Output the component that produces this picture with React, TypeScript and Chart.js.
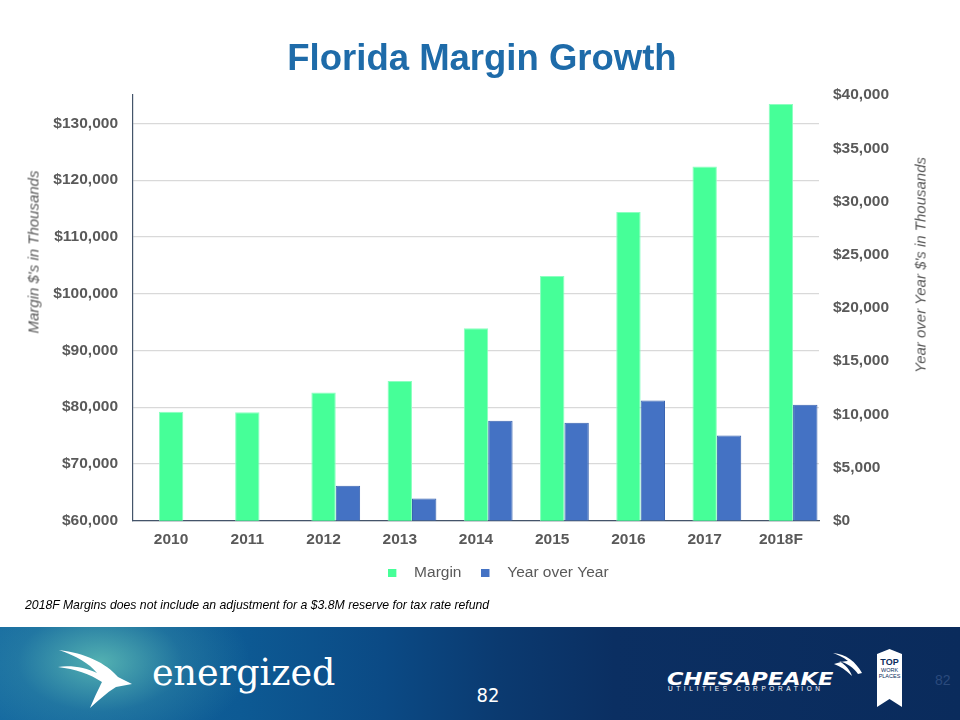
import React, { useEffect, useRef } from 'react';
import { Chart, registerables } from 'chart.js';

Chart.register(...registerables);

// ---- data ----
const categories = ['2010', '2011', '2012', '2013', '2014', '2015', '2016', '2017', '2018F'];
const marginValues = [79200, 79100, 82600, 84600, 93900, 103100, 114400, 122400, 133400];
const yoyValues: (number | null)[] = [null, null, 3300, 2100, 9400, 9200, 11300, 8000, 10900];
const leftAxisMin = 60000;
const leftAxisMax = 135000;
const leftTicks = [60000, 70000, 80000, 90000, 100000, 110000, 120000, 130000];
const rightAxisMin = 0;
const rightAxisMax = 40000;
const rightTicks = [0, 5000, 10000, 15000, 20000, 25000, 30000, 35000, 40000];
const seriesNames = ['Margin', 'Year over Year'];

const FONT = "'Liberation Sans', Arial, Helvetica, sans-serif";
const GREEN = '#46FF98';
const BLUE = '#4472C4';
const LABEL = '#595959';

function makeSwatch(color: string) {
  const c = document.createElement('canvas');
  c.width = 18;
  c.height = 8;
  const ctx = c.getContext('2d')!;
  ctx.fillStyle = color;
  ctx.fillRect(0, 0, 8, 8);
  return c;
}

const fmt = (v: number | string) => '$' + Number(v).toLocaleString('en-US');

function ChartCanvas() {
  const ref = useRef<HTMLCanvasElement | null>(null);
  useEffect(() => {
    if (!ref.current) return;
    const swatches: any = { 1: makeSwatch(GREEN), 2: makeSwatch(BLUE) };
    const tickFont = { family: FONT, size: 15.5, weight: 'bold' as const };
    const chart = new Chart(ref.current, {
      type: 'bar',
      data: {
        labels: categories,
        datasets: [
          {
            label: '',
            data: categories.map(() => null),
            yAxisID: 'y',
            backgroundColor: 'rgba(0,0,0,0)',
            categoryPercentage: 0.96,
            barPercentage: 1,
          },
          {
            label: seriesNames[0],
            data: marginValues,
            yAxisID: 'y',
            backgroundColor: GREEN,
            borderColor: '#8CFFC0',
            borderWidth: 1,
            categoryPercentage: 0.96,
            barPercentage: 1,
          },
          {
            label: seriesNames[1],
            data: yoyValues,
            yAxisID: 'y2',
            backgroundColor: BLUE,
            borderColor: '#3A64B0',
            borderWidth: 1,
            categoryPercentage: 0.96,
            barPercentage: 1,
          },
        ],
      },
      options: {
        animation: false,
        responsive: false,
        layout: { padding: { top: 95, bottom: 9.25, left: 37, right: 0 } },
        plugins: {
          tooltip: { enabled: false },
          title: { display: false },
          legend: {
            position: 'bottom',
            labels: {
              color: LABEL,
              font: { family: FONT, size: 15.5 },
              padding: 20,
              usePointStyle: true,
              pointStyleWidth: 18,
              generateLabels: (ch: any) => {
                const items = (Chart.defaults as any).plugins.legend.labels.generateLabels(ch);
                return items
                  .filter((i: any) => i.datasetIndex !== 0)
                  .map((i: any) => ({ ...i, pointStyle: swatches[i.datasetIndex] }));
              },
            },
          },
        },
        scales: {
          x: {
            grid: { display: false, drawTicks: false },
            border: { display: true, color: '#44546A', width: 1.2 },
            ticks: { color: LABEL, font: tickFont, padding: 9.5 },
            afterFit: (s: any) => {
              s.height = 24.5;
            },
          },
          y: {
            position: 'left',
            min: leftAxisMin,
            max: leftAxisMax,
            ticks: {
              callback: (v: any) => fmt(v),
              color: LABEL,
              font: tickFont,
              padding: 15,
            },
            afterBuildTicks: (s: any) => {
              s.ticks = leftTicks.map((value) => ({ value }));
            },
            grid: { color: '#D9D9D9', drawTicks: false, lineWidth: 1.2 },
            border: { display: true, color: '#44546A', width: 1.2 },
            afterFit: (s: any) => {
              s.width = 133 - 37;
            },
          },
          y2: {
            position: 'right',
            min: rightAxisMin,
            max: rightAxisMax,
            ticks: {
              callback: (v: any) => fmt(v),
              color: LABEL,
              font: tickFont,
              padding: 14,
            },
            afterBuildTicks: (s: any) => {
              s.ticks = rightTicks.map((value) => ({ value }));
            },
            grid: { display: false, drawTicks: false },
            border: { display: false },
            afterFit: (s: any) => {
              s.width = 141;
            },
          },
        },
      } as any,
    });
    return () => chart.destroy();
  }, []);
  return <canvas ref={ref} width={960} height={600} style={{ display: 'block', position: 'absolute', left: 0, top: 0 }} />;
}

export default function App() {
  const rot = (cx: number, cy: number): React.CSSProperties => ({
    position: 'absolute',
    left: cx,
    top: cy,
    transform: 'translate(-50%, -50%) rotate(-90deg)',
    whiteSpace: 'nowrap',
    fontFamily: FONT,
    fontStyle: 'italic',
    fontSize: 15,
    color: LABEL,
    lineHeight: 1,
  });
  return (
    <div style={{ position: 'absolute', left: 0, top: 0, width: 960, height: 720, background: '#fff', overflow: 'hidden' }}>
      <ChartCanvas />
      <div
        style={{
          position: 'absolute',
          left: 0,
          top: 39.5,
          width: 964,
          textAlign: 'center',
          fontFamily: FONT,
          fontWeight: 'bold',
          fontSize: 36.5,
          lineHeight: 1,
          color: '#1E6BA9',
          whiteSpace: 'nowrap',
        }}
      >
        Florida Margin Growth
      </div>
      <div style={rot(33, 252)}>Margin $'s in Thousands</div>
      <div style={rot(920, 265)}>Year over Year $'s in Thousands</div>
      <div
        style={{
          position: 'absolute',
          left: 25,
          top: 599,
          fontFamily: FONT,
          fontStyle: 'italic',
          fontSize: 12.25,
          lineHeight: 1,
          color: '#000',
          whiteSpace: 'nowrap',
        }}
      >
        2018F Margins does not include an adjustment for a $3.8M reserve for tax rate refund
      </div>
      {/* footer banner */}
      <div
        style={{
          position: 'absolute',
          left: 0,
          top: 627,
          width: 960,
          height: 93,
          background:
            'radial-gradient(ellipse 150px 90px at 100px 35px, rgba(90,185,180,0.9), rgba(60,150,170,0.35) 55%, rgba(20,100,150,0) 100%), linear-gradient(90deg, #1468a0 0%, #0d5a94 25%, #0b4a85 40%, #0b3a70 52%, #0b2f62 64%, #0a2b5c 100%)',
        }}
      >
        <svg width={960} height={93} style={{ position: 'absolute', left: 0, top: 0 }}>
          <path
            d="M59,23 C85,26 106,36 118,50 L132,57 L116,60 C106,66 98,74 90,81 C95,69 99,61 102,55 C90,47 75,42 58,40 C72,38 86,41 97,46 C89,36 76,29 59,23 Z"
            fill="#ffffff"
          />
          <path
            d="M833,26 C846,27 856,35 862,46 L858,47 C854,41 847,36 839,34 C846,38 850,43 852,49 C846,43 840,39 834,37 C840,35 845,34 848,34 C843,30 838,28 833,26 Z"
            fill="#ffffff"
          />
          <polygon points="877,27 889.5,22 902,27 902,80 889.5,72 877,80" fill="#ffffff" />
          <text x={889.5} y={38} textAnchor="middle" fontFamily={FONT} fontWeight="bold" fontSize={9} fill="#0a2b5c">
            TOP
          </text>
          <text x={889.5} y={45} textAnchor="middle" fontFamily={FONT} fontSize={5.5} fill="#0a2b5c">
            WORK
          </text>
          <text x={889.5} y={51} textAnchor="middle" fontFamily={FONT} fontSize={5.5} fill="#0a2b5c">
            PLACES
          </text>
        </svg>
        <div
          style={{
            position: 'absolute',
            left: 152,
            top: 28,
            fontFamily: "'DejaVu Serif', serif",
            fontSize: 36.5,
            lineHeight: 1,
            color: '#fff',
            whiteSpace: 'nowrap',
          }}
        >
          energized
        </div>
        <div
          style={{
            position: 'absolute',
            left: 488,
            top: 68,
            transform: 'translate(-50%, -50%)',
            fontFamily: "'Liberation Sans Narrow', 'DejaVu Sans Condensed', sans-serif",
            fontSize: 20,
            lineHeight: 1,
            color: '#fff',
          }}
        >
          82
        </div>
        <div
          style={{
            position: 'absolute',
            left: 667,
            top: 43,
            fontFamily: "'DejaVu Sans', sans-serif",
            fontWeight: 'bold',
            fontStyle: 'italic',
            fontSize: 18,
            lineHeight: 1,
            color: '#fff',
            transform: 'scaleX(1.25)',
            transformOrigin: 'left center',
            whiteSpace: 'nowrap',
          }}
        >
          CHESAPEAKE
        </div>
        <div
          style={{
            position: 'absolute',
            left: 668,
            top: 59,
            fontFamily: FONT,
            fontSize: 6.5,
            letterSpacing: 3.6,
            lineHeight: 1,
            color: '#fff',
            whiteSpace: 'nowrap',
          }}
        >
          UTILITIES CORPORATION
        </div>
        <div
          style={{
            position: 'absolute',
            left: 935,
            top: 46,
            fontFamily: FONT,
            fontSize: 14,
            lineHeight: 1,
            color: '#2b4a7c',
          }}
        >
          82
        </div>
      </div>
    </div>
  );
}
